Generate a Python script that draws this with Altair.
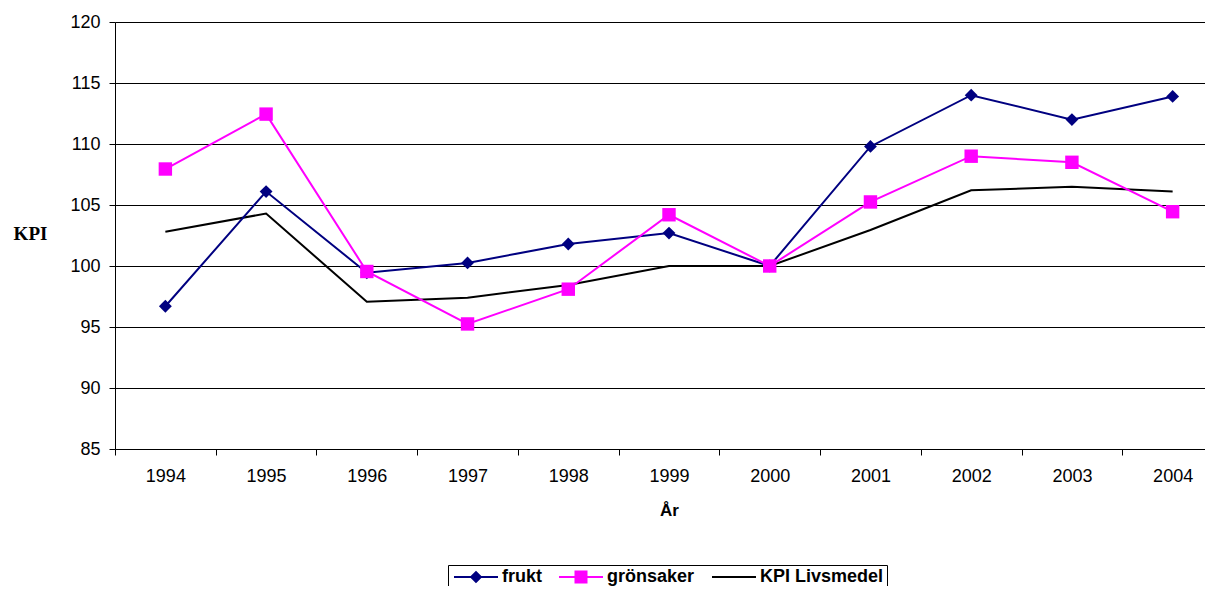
import altair as alt
import pandas as pd

# ---- data ----
years = ["1994", "1995", "1996", "1997", "1998", "1999", "2000", "2001", "2002", "2003", "2004"]
series_names = ["frukt", "grönsaker", "KPI Livsmedel"]
frukt = [96.7, 106.1, 99.45, 100.25, 101.8, 102.7, 100.0, 109.8, 114.0, 112.0, 113.9]
gronsaker = [107.95, 112.45, 99.55, 95.25, 98.1, 104.2, 100.0, 105.25, 109.0, 108.5, 104.45]
kpi_livsmedel = [102.8, 104.3, 97.07, 97.4, 98.45, 100.0, 100.0, 102.95, 106.2, 106.5, 106.1]
y_ticks = [85, 90, 95, 100, 105, 110, 115, 120]
colors = ["#000080", "#FF00FF", "#000000"]
# legend symbols: a line segment with (or without) the series marker on it
legend_paths = [
    "M-1,-0.167H6.333V0.167H-1Z M2.667,-1.05L3.717,0L2.667,1.05L1.617,0Z",
    "M-1,-0.167H6.333V0.167H-1Z M1.583,-1.083H3.75V1.083H1.583Z",
    "M-1,-0.167H6.333V0.167H-1Z",
]

rows = []
for name, vals in zip(series_names, [frukt, gronsaker, kpi_livsmedel]):
    for yr, v in zip(years, vals):
        rows.append({"År": yr, "serie": name, "KPI": v})
df = pd.DataFrame(rows)

LBL_FONT = "Liberation Sans"

x_enc = alt.X(
    "År:N",
    sort=years,
    scale=alt.Scale(type="band", domain=years, range=[0, 1108], paddingInner=0, paddingOuter=0),
    axis=alt.Axis(
        title="År",
        tickBand="extent",
        labelAngle=0,
        grid=False,
        domainColor="#000000",
        domainWidth=1,
        tickColor="#000000",
        tickSize=6,
        labelFont=LBL_FONT,
        labelFontSize=18,
        labelColor="#000000",
        labelPadding=12,
        titleFont=LBL_FONT,
        titleFontSize=17,
        titleFontWeight="bold",
        titleColor="#000000",
        titleX=554,
        titleY=61,
        titleAlign="center",
        titleBaseline="middle",
    ),
)

y_enc = alt.Y(
    "KPI:Q",
    scale=alt.Scale(domain=[85, 120], nice=False, zero=False),
    axis=alt.Axis(
        values=y_ticks,
        title="KPI",
        grid=True,
        gridColor="#000000",
        gridWidth=1,
        domainColor="#000000",
        tickColor="#000000",
        tickSize=6,
        labelFont=LBL_FONT,
        labelFontSize=18,
        labelColor="#000000",
        labelPadding=9,
        titleFont="Liberation Serif",
        titleFontSize=19,
        titleFontWeight="bold",
        titleColor="#000000",
        titleAngle=0,
        titleX=-85,
        titleY=211,
        titleAlign="center",
        titleBaseline="middle",
    ),
)

leg = alt.Legend(
    title=None,
    orient="none",
    legendX=333,
    legendY=543,
    direction="horizontal",
    strokeColor="#000000",
    padding=3,
    symbolSize=144,
    symbolStrokeWidth=0,
    symbolOpacity=1,
    labelFont=LBL_FONT,
    labelFontSize=18,
    labelFontWeight="bold",
    labelColor="#000000",
    labelOffset=33,
    columnPadding=14,
)


def series_line(name, color):
    return (
        alt.Chart(df)
        .transform_filter(alt.datum.serie == name)
        .mark_line(strokeWidth=2, color=color)
        .encode(x=x_enc, y=y_enc)
    )


def series_points(name, color, shape, size):
    return (
        alt.Chart(df)
        .transform_filter(alt.datum.serie == name)
        .mark_point(shape=shape, filled=True, size=size, color=color, opacity=1)
        .encode(x=x_enc, y=y_enc)
    )


line_kpi = series_line("KPI Livsmedel", colors[2])
line_frukt = series_line("frukt", colors[0])
pts_frukt = series_points("frukt", colors[0], "diamond", 165)
line_gron = series_line("grönsaker", colors[1])
pts_gron = series_points("grönsaker", colors[1], "square", 180)

# invisible layer whose only job is to carry the legend (line + marker symbols)
legend_layer = (
    alt.Chart(df)
    .mark_point(filled=True, opacity=0)
    .encode(
        x=x_enc,
        y=y_enc,
        color=alt.Color("serie:N", scale=alt.Scale(domain=series_names, range=colors), legend=leg),
        shape=alt.Shape("serie:N", scale=alt.Scale(domain=series_names, range=legend_paths), legend=leg),
    )
)

chart = (
    alt.layer(line_kpi, line_frukt, pts_frukt, line_gron, pts_gron, legend_layer)
    .properties(
        width=1090,
        height=427,
        autosize=alt.AutoSizeParams(type="none"),
        padding={"left": 107, "top": 14, "right": 0, "bottom": 137},
        background="white",
    )
    .configure_view(stroke=None)
)

chart.save("out.html", embed_options={"renderer": "svg", "actions": False})
